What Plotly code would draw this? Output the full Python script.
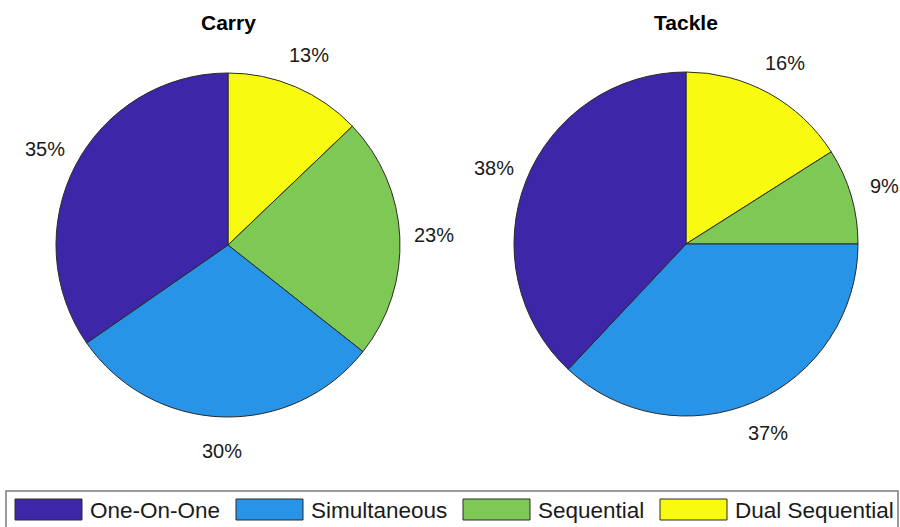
import math
import plotly.graph_objects as go

# Data
categories = ["One-On-One", "Simultaneous", "Sequential", "Dual Sequential"]
carry_pct = [35, 30, 23, 13]
tackle_pct = [38, 37, 9, 16]
panel_titles = ["Carry", "Tackle"]
colors = ["#3e26a8", "#2794e8", "#7ec855", "#f8fa10"]

# Layout constants (pixels)
W, H = 900, 527
R = 172                      # pie radius
centers = [(228, 245), (686, 244)]
FONT = "Liberation Sans, Arial, Helvetica, sans-serif"

fig = go.Figure()
annotations = []
shapes = []

for values, title, (cx, cy) in zip([carry_pct, tackle_pct], panel_titles, centers):
    # Slices run counterclockwise from 12 o'clock in category order;
    # drawn here as the reversed order going clockwise from 12 o'clock.
    fig.add_trace(go.Pie(
        labels=categories[::-1],
        values=values[::-1],
        sort=False,
        direction="clockwise",
        rotation=0,
        textinfo="none",
        hole=0,
        marker=dict(colors=colors[::-1], line=dict(color="#2a2a2a", width=1)),
        domain=dict(x=[(cx - R) / W, (cx + R) / W],
                    y=[1 - (cy + R) / H, 1 - (cy - R) / H]),
        showlegend=False,
        hovertemplate="%{label}: %{value}%<extra></extra>",
    ))
    # Panel title
    annotations.append(dict(
        x=cx / W, y=1 - 22 / H, xref="paper", yref="paper",
        text=f"<b>{title}</b>", showarrow=False,
        xanchor="center", yanchor="middle",
        font=dict(family=FONT, size=21, color="#000000"),
    ))
    # Percentage labels placed at 1.2 x radius along each slice bisector
    total = sum(values)
    cum = 0.0
    for v in values:
        mid = (cum + v / 2) / total * 2 * math.pi   # counterclockwise from 12 o'clock
        cum += v
        lx = cx - 1.2 * R * math.sin(mid)
        ly = cy - 1.2 * R * math.cos(mid)
        annotations.append(dict(
            x=lx / W, y=1 - ly / H, xref="paper", yref="paper",
            text=f"{v}%", showarrow=False,
            xanchor="center", yanchor="middle",
            font=dict(family=FONT, size=20, color="#1a1a1a"),
        ))

# Legend box along the bottom
shapes.append(dict(
    type="rect", xref="paper", yref="paper",
    x0=6 / W, x1=898 / W, y0=-0.05, y1=1 - 491 / H,
    line=dict(color="#7a7a7a", width=1.5), fillcolor="white", layer="below",
))
item_x = [15, 236, 463, 660]
sw_w, sw_top, sw_bot = 67, 499, 520
for name, col, x0 in zip(categories, colors, item_x):
    shapes.append(dict(
        type="rect", xref="paper", yref="paper",
        x0=x0 / W, x1=(x0 + sw_w) / W,
        y0=1 - sw_bot / H, y1=1 - sw_top / H,
        line=dict(color="#2a2a2a", width=1), fillcolor=col,
    ))
    annotations.append(dict(
        x=(x0 + sw_w + 6) / W, y=1 - 510 / H, xref="paper", yref="paper",
        text=name, showarrow=False, xanchor="left", yanchor="middle",
        font=dict(family=FONT, size=22.5, color="#1a1a1a"),
    ))

fig.update_layout(
    width=W, height=H,
    margin=dict(l=0, r=0, t=0, b=0),
    paper_bgcolor="white", plot_bgcolor="white",
    annotations=annotations, shapes=shapes,
)

fig.write_html("out.html")
